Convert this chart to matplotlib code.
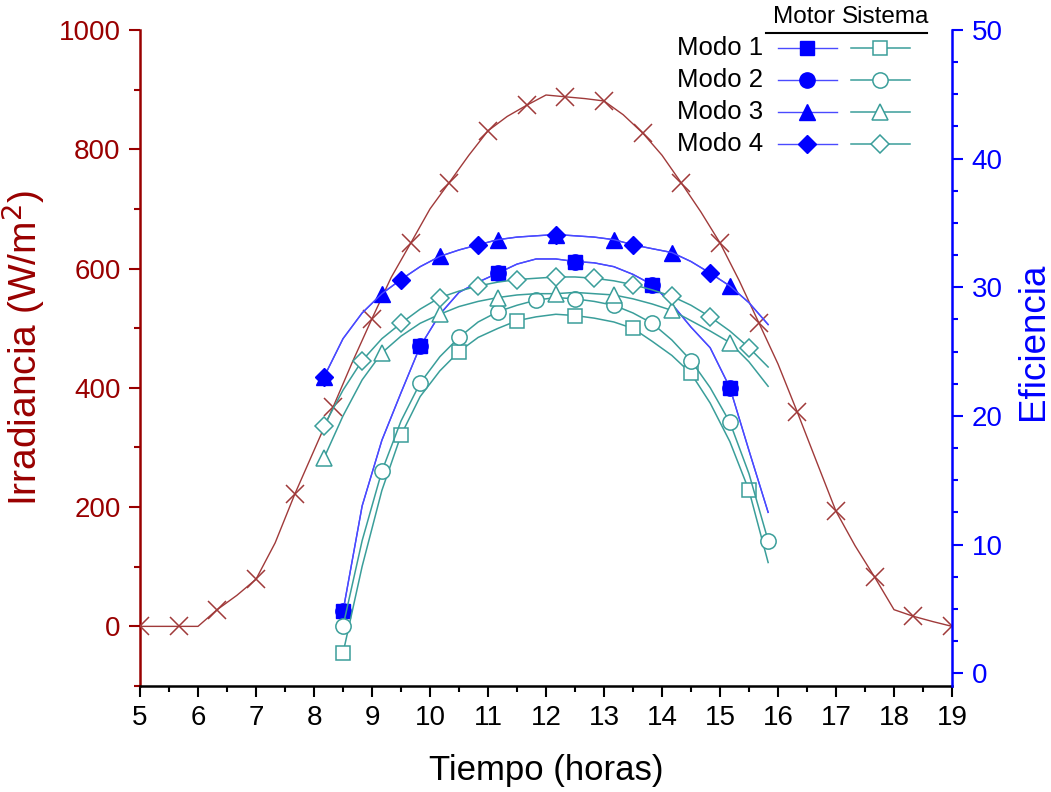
import matplotlib
matplotlib.use('Agg')
import matplotlib.pyplot as plt
from matplotlib.lines import Line2D
from matplotlib.ticker import MultipleLocator

plt.rcParams['font.family'] = ['Liberation Sans', 'DejaVu Sans']
estrecha = ['Liberation Sans Narrow', 'Liberation Sans', 'DejaVu Sans']

# irradiancia (W/m2)
hora_irr = [5.0, 5.33, 5.67, 6.0, 6.33, 6.67, 7.0, 7.33, 7.67, 8.0, 8.33, 8.67, 9.0, 9.33,
            9.67, 10.0, 10.33, 10.67, 11.0, 11.33, 11.67, 12.0, 12.33, 12.67, 13.0, 13.33,
            13.67, 14.0, 14.33, 14.67, 15.0, 15.33, 15.67, 16.0, 16.33, 16.67, 17.0, 17.33,
            17.67, 18.0, 18.33, 18.67, 19.0]
irradiancia = [0, 0, 0, 0, 28, 52, 79, 140, 222, 295, 368, 445, 516, 585, 643, 700, 744,
               790, 831, 855, 874, 891, 888, 885, 881, 858, 827, 790, 744, 695, 643, 580,
               509, 440, 360, 275, 193, 135, 82, 28, 17, 8, 0]

# eficiencia, modos 1 y 2
hora_a = [8.5, 8.83, 9.17, 9.5, 9.83, 10.17, 10.5, 10.83, 11.17, 11.5, 11.83, 12.17, 12.5,
          12.83, 13.17, 13.5, 13.83, 14.17, 14.5, 14.83, 15.17, 15.5, 15.83]
motor_12 = [4.8, 13.0, 18.1, 21.8, 25.4, 27.9, 29.6, 30.4, 31.1, 31.8, 32.2, 32.2, 32.0,
            31.9, 31.6, 31.0, 30.2, 28.7, 26.9, 25.3, 22.2, 17.3, 12.5]
sist_1 = [1.55, 8.3, 14.2, 18.5, 21.5, 23.5, 25.0, 26.1, 26.8, 27.4, 27.7, 27.9, 27.8,
          27.6, 27.3, 26.8, 25.8, 24.7, 23.3, 21.0, 18.0, 14.2, 8.6]
sist_2 = [3.65, 10.3, 15.7, 19.6, 22.55, 24.6, 26.1, 27.3, 28.1, 28.6, 29.0, 29.2, 29.1,
          28.9, 28.6, 28.0, 27.2, 25.9, 24.3, 22.2, 19.5, 15.5, 10.3]

# eficiencia, modos 3 y 4
hora_b = [8.17, 8.5, 8.83, 9.17, 9.5, 9.83, 10.17, 10.5, 10.83, 11.17, 11.5, 11.83, 12.17,
          12.5, 12.83, 13.17, 13.5, 13.83, 14.17, 14.5, 14.83, 15.17, 15.5, 15.83]
motor_34 = [23.0, 26.0, 28.0, 29.5, 30.6, 31.6, 32.4, 32.9, 33.3, 33.7, 33.9, 34.0, 34.1,
            34.0, 33.9, 33.7, 33.3, 33.0, 32.7, 32.0, 31.1, 30.1, 28.8, 27.1]
sist_3 = [16.7, 20.0, 22.8, 24.9, 26.2, 27.2, 27.9, 28.5, 28.9, 29.2, 29.4, 29.5, 29.5,
          29.6, 29.5, 29.4, 29.1, 28.7, 28.2, 27.4, 26.6, 25.7, 24.2, 22.3]
sist_4 = [19.2, 22.0, 24.3, 26.0, 27.2, 28.3, 29.2, 29.7, 30.1, 30.4, 30.6, 30.7, 30.8,
          30.8, 30.7, 30.5, 30.2, 29.8, 29.3, 28.6, 27.7, 26.6, 25.3, 23.8]

rojo = '#990000'
azul = '#0000ff'
linea_azul = '#4a4aff'
teal = '#3a9e9a'
W, H = 1051, 792

fig = plt.figure(figsize=(W / 100, H / 100), dpi=100)
ax = fig.add_axes([140 / W, 1 - 686 / H, (952 - 140) / W, (686 - 30) / H])
ax2 = ax.twinx()

ax.plot(hora_irr, irradiancia, color='#a03a3a', lw=1.0, marker='x', ms=13, mew=1.1,
        markevery=2, zorder=3)

# motor (relleno) y sistema (hueco)
kw_m = dict(color=linea_azul, lw=1.0, mfc=azul, mec=azul)
kw_s = dict(color=teal, lw=1.1, mfc='white', mec=teal, mew=1.1)
ax2.plot(hora_a, motor_12, marker='o', ms=11, markevery=4, **kw_m)
ax2.plot(hora_a, motor_12, marker='s', ms=10, markevery=4, **kw_m)
ax2.plot(hora_b, motor_34, marker='^', ms=12, markevery=3, **kw_m)
ax2.plot(hora_b, motor_34, marker='D', ms=9, markevery=4, **kw_m)
ax2.plot(hora_a, sist_1, marker='s', ms=10, markevery=3, **kw_s)
ax2.plot(hora_a, sist_2, marker='o', ms=11, markevery=2, **kw_s)
ax2.plot(hora_b, sist_3, marker='^', ms=12, markevery=3, **kw_s)
ax2.plot(hora_b, sist_4, marker='D', ms=9, markevery=2, **kw_s)

ax.set_xlim(5, 19)
ax.set_ylim(-100, 1000)
ax2.set_ylim(-1, 50)
ax.xaxis.set_major_locator(MultipleLocator(1))
ax.xaxis.set_minor_locator(MultipleLocator(0.5))
ax.yaxis.set_major_locator(MultipleLocator(200))
ax.yaxis.set_minor_locator(MultipleLocator(100))
ax2.yaxis.set_major_locator(MultipleLocator(10))
ax2.yaxis.set_minor_locator(MultipleLocator(2.5))

for a in (ax, ax2):
    a.spines['top'].set_visible(False)
    for s in a.spines.values():
        s.set_linewidth(1.8)
ax.spines['left'].set_color(rojo)
ax.spines['right'].set_visible(False)
ax2.spines['left'].set_visible(False)
ax2.spines['right'].set_color(azul)
ax2.spines['bottom'].set_visible(False)

ax.tick_params(axis='x', which='both', direction='out', width=1.5, pad=6)
ax.tick_params(axis='x', which='major', length=8)
ax.tick_params(axis='x', which='minor', length=4)
for lbl in ax.get_xticklabels():
    lbl.set_family(estrecha)
    lbl.set_fontsize(20)
ax.tick_params(axis='y', which='both', direction='out', width=1.5, color=rojo,
               labelcolor=rojo, labelsize=20, pad=6)
ax.tick_params(axis='y', which='major', length=8)
ax.tick_params(axis='y', which='minor', length=4)
ax2.tick_params(axis='y', which='both', direction='out', width=1.5, color=azul,
                labelcolor=azul, labelsize=20, pad=6)
ax2.tick_params(axis='y', which='major', length=8)
ax2.tick_params(axis='y', which='minor', length=4)

ax.set_xlabel('Tiempo (horas)', fontsize=25, labelpad=16)
ax.set_ylabel('Irradiancia (W/m$^2$)', fontsize=28, color=rojo)
ax.yaxis.set_label_coords(-0.114, 0.515)
ax2.set_ylabel('Eficiencia', fontsize=26.5, color=azul)
ax2.yaxis.set_label_coords(1.079, 0.525)

# leyenda tipo tabla
def fx(px):
    return px / W

def fy(py):
    return 1 - py / H

fig.text(fx(804), fy(17), 'Motor', fontsize=17.5, ha='center', va='center')
fig.text(fx(886), fy(17), 'Sistema', fontsize=17.5, ha='center', va='center')
fig.add_artist(Line2D([fx(766), fx(927)], [fy(33), fy(33)], color='black', lw=1.5))

nombres = ['Modo 1', 'Modo 2', 'Modo 3', 'Modo 4']
marcas = ['s', 'o', '^', 'D']
tamanos = [10, 11, 12, 9]
filas = [48, 80, 112, 144]
for nom, mk, ms, py in zip(nombres, marcas, tamanos, filas):
    fig.text(fx(763), fy(py), nom, fontsize=18.5, ha='right', va='center')
    fig.add_artist(Line2D([fx(778), fx(837)], [fy(py), fy(py)], color=linea_azul, lw=1.0))
    fig.add_artist(Line2D([fx(807)], [fy(py)], marker=mk, ms=ms, mfc=azul, mec=azul, lw=0))
    fig.add_artist(Line2D([fx(851), fx(910)], [fy(py), fy(py)], color=teal, lw=1.1))
    fig.add_artist(Line2D([fx(880)], [fy(py)], marker=mk, ms=ms, mfc='white', mec=teal,
                          mew=1.1, lw=0))

fig.savefig('out.png', dpi=100)
